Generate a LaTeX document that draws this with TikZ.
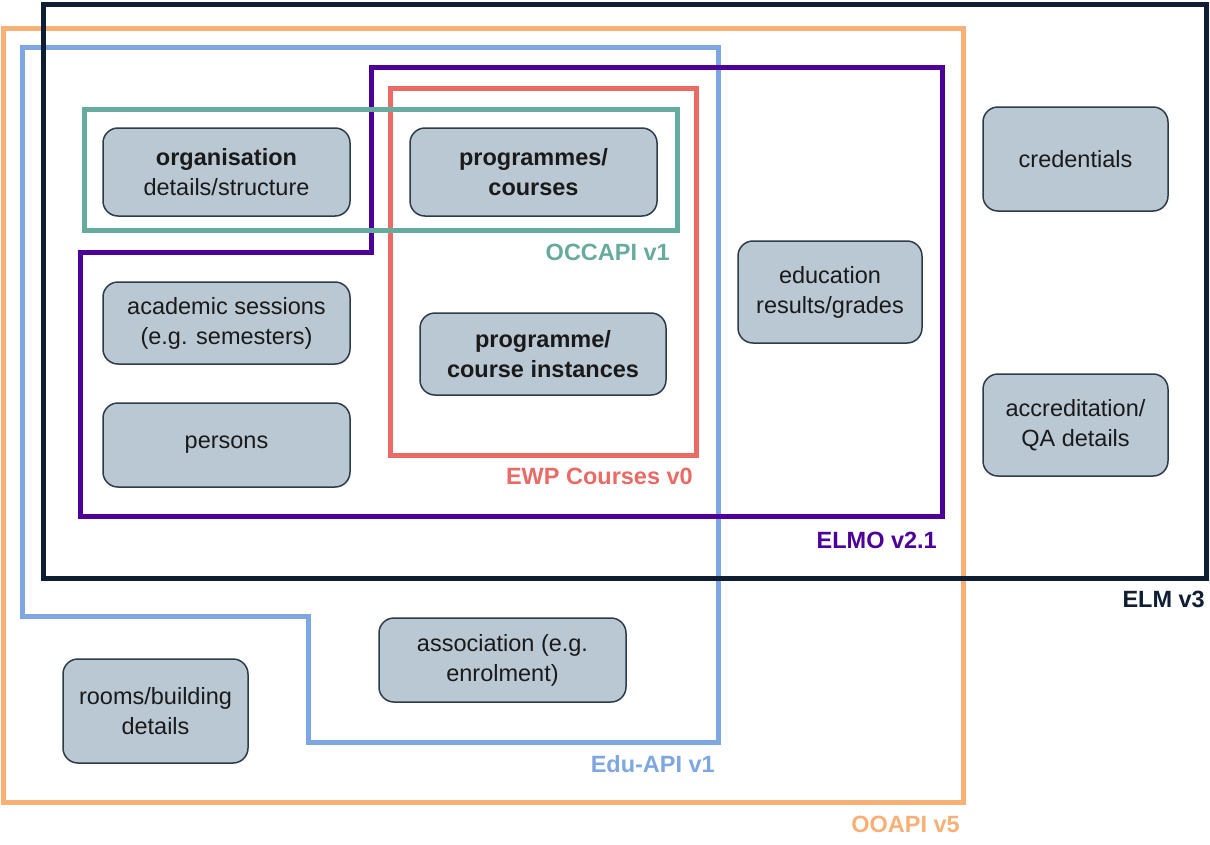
\documentclass[tikz,border=0pt]{standalone}
\usepackage{fontspec}
\setmainfont{Liberation Sans}
\definecolor{elmc}{HTML}{0F1E33}
\definecolor{ooapic}{HTML}{F7B176}
\definecolor{educ}{HTML}{7EA6E0}
\definecolor{elmoc}{HTML}{4C0099}
\definecolor{ewpc}{HTML}{EA6B66}
\definecolor{occc}{HTML}{67AB9F}
\definecolor{boxfill}{HTML}{BAC8D3}
\definecolor{boxdraw}{HTML}{2E3B48}
\definecolor{txt}{HTML}{1A1A1A}
\tikzset{
  outline/.style={line width=5pt, line join=miter},
  box/.style={draw=boxdraw, fill=boxfill, line width=1.5pt, rounded corners=15pt,
    align=center, inner sep=0pt, text=txt, font=\fontsize{23.5}{30}\selectfont},
  lbl/.style={anchor=mid east, inner sep=0pt, font=\fontsize{23.5}{28}\selectfont\bfseries}
}
\begin{document}
\begin{tikzpicture}[x=1pt,y=-1pt]
\useasboundingbox (0,0) rectangle (1210,844);
\fill[white] (0,0) rectangle (1210,844);
% OOAPI v5
\draw[outline, ooapic] (3,28) rectangle (963,802);
% Edu-API v1
\draw[outline, educ] (22,47) -- (718,47) -- (718,742) -- (308,742) -- (308,616) -- (22,616) -- cycle;
% ELM v3
\draw[outline, elmc] (43,4) rectangle (1206,578);
% ELMO v2.1
\draw[outline, elmoc] (371,67) -- (942,67) -- (942,516) -- (80,516) -- (80,252) -- (371,252) -- cycle;
% EWP Courses v0
\draw[outline, ewpc] (390,88) rectangle (696,455);
% OCCAPI v1
\draw[outline, occc] (84,109) rectangle (677,230);

% labels
\node[lbl, text=elmc] (lelm) at (1205,605) {ELM v3};
\node[lbl, text=ooapic] (looapi) at (960,830) {OOAPI v5};
\node[lbl, text=educ] (ledu) at (715,770) {Edu-API v1};
\node[lbl, text=elmoc] (lelmo) at (937,546) {ELMO v2.1};
\node[lbl, text=ewpc] (lewp) at (693,482) {EWP Courses v0};
\node[lbl, text=occc] (locc) at (670,258) {OCCAPI v1};

% boxes
\node[box, minimum width=247pt, minimum height=88pt] (org) at (226.5,172) {\textbf{organisation}\\details/structure};
\node[box, minimum width=247pt, minimum height=88pt] (prog) at (533.5,172) {\textbf{programmes/}\\\textbf{courses}};
\node[box, minimum width=247pt, minimum height=82pt] (acad) at (226.5,323) {academic sessions\\(e.g. semesters)};
\node[box, minimum width=247pt, minimum height=84pt] (pers) at (226.5,445) {persons};
\node[box, minimum width=246pt, minimum height=82pt] (inst) at (543,354) {\textbf{programme/}\\\textbf{course instances}};
\node[box, minimum width=184pt, minimum height=102pt] (edur) at (830,292) {education\\results/grades};
\node[box, minimum width=185pt, minimum height=104pt] (cred) at (1075.5,159) {credentials};
\node[box, minimum width=185pt, minimum height=102pt] (accr) at (1075.5,425) {accreditation/\\QA details};
\node[box, minimum width=247pt, minimum height=84pt] (assoc) at (502.5,660) {association (e.g.\\enrolment)};
\node[box, minimum width=185pt, minimum height=104pt] (rooms) at (155.5,711) {rooms/building\\details};
\end{tikzpicture}
\end{document}
